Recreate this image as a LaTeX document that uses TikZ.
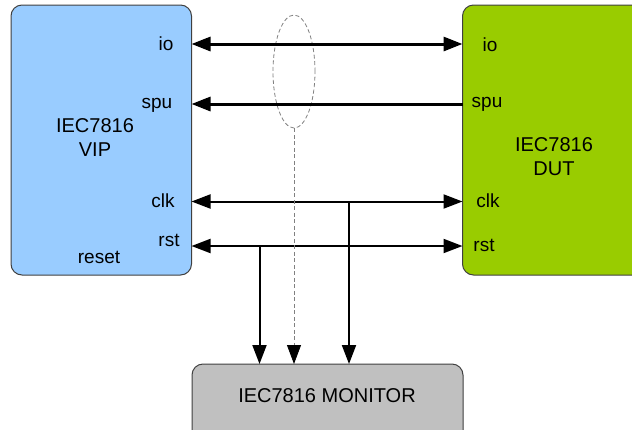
\documentclass[tikz,border=0pt]{standalone}
\usepackage{fontspec}
\setmainfont{Liberation Sans}
\usetikzlibrary{arrows.meta,shapes.geometric}
\definecolor{vipblue}{HTML}{99CCFF}
\definecolor{dutgreen}{HTML}{99CC00}
\definecolor{mongray}{HTML}{C0C0C0}
\definecolor{edgegray}{HTML}{404040}
\tikzset{
  blockbox/.style={draw=edgegray, line width=1pt, rounded corners=11pt},
  lbl/.style={inner sep=0pt, font=\fontsize{19}{22}\selectfont},
  title/.style={inner sep=0pt, align=center, font=\fontsize{20}{24}\selectfont},
  tip/.style={-{Triangle[length=19pt,width=14pt]}},
  dtip/.style={{Triangle[length=19pt,width=14pt]}-{Triangle[length=19pt,width=14pt]}},
  thickbus/.style={line width=3pt},
  thinbus/.style={line width=2pt},
  dashline/.style={draw=gray, line width=0.8pt, dash pattern=on 4pt off 2.5pt},
}
\begin{document}
\begin{tikzpicture}[x=1pt,y=-1pt]
\clip (0,0) rectangle (632,429);
% blocks
\draw[blockbox, fill=vipblue] (11,5) rectangle (191.5,275);
\draw[blockbox, fill=dutgreen] (462.5,5) rectangle (700,275);
\draw[blockbox, fill=mongray] (192,364) rectangle (463,470);
\node[title] (viptitle) at (95,138) {IEC7816\\VIP};
\node[title] (duttitle) at (554,157) {IEC7816\\DUT};
\node[title] (montitle) at (327,396) {IEC7816 MONITOR};
% port labels
\node[lbl] (vio) at (166,44) {io};
\node[lbl] (vspu) at (157,105) {spu};
\node[lbl] (vclk) at (163,201) {clk};
\node[lbl] (vrst) at (169,240) {rst};
\node[lbl] (vreset) at (99,257) {reset};
\node[lbl] (dio) at (490,45) {io};
\node[lbl] (dspu) at (487,104) {spu};
\node[lbl] (dclk) at (488,201) {clk};
\node[lbl] (drst) at (484,245) {rst};
% port points
\coordinate (pvio) at (191.5,44);
\coordinate (pdio) at (462.5,44);
\coordinate (pvspu) at (191.5,104);
\coordinate (pdspu) at (462.5,104);
\coordinate (pvclk) at (191.5,201.5);
\coordinate (pdclk) at (462.5,201.5);
\coordinate (pvrst) at (191.5,246);
\coordinate (pdrst) at (462.5,246);
\coordinate (jrst) at (259.5,246);
\coordinate (jclk) at (349,201.5);
\coordinate (mrst) at (259.5,364);
\coordinate (mclk) at (349,364);
\coordinate (mdash) at (293.5,364);
% ellipse
\node[ellipse, dashline, minimum width=42pt, minimum height=113pt, inner sep=0pt] (bundle) at (294,71.5) {};
% connectors
\draw[dtip, thickbus] (pvio) -- (pdio);
\draw[tip, thickbus] (pdspu) -- (pvspu);
\draw[dtip, thinbus] (pvclk) -- (pdclk);
\draw[dtip, thinbus] (pvrst) -- (pdrst);
\draw[tip, thinbus] (jrst) -- (mrst);
\draw[tip, thinbus] (jclk) -- (mclk);
\draw[dashline, -{Triangle[length=19pt,width=14pt,color=black]}] (bundle.south) -- (bundle.south |- mdash);
\end{tikzpicture}
\end{document}
